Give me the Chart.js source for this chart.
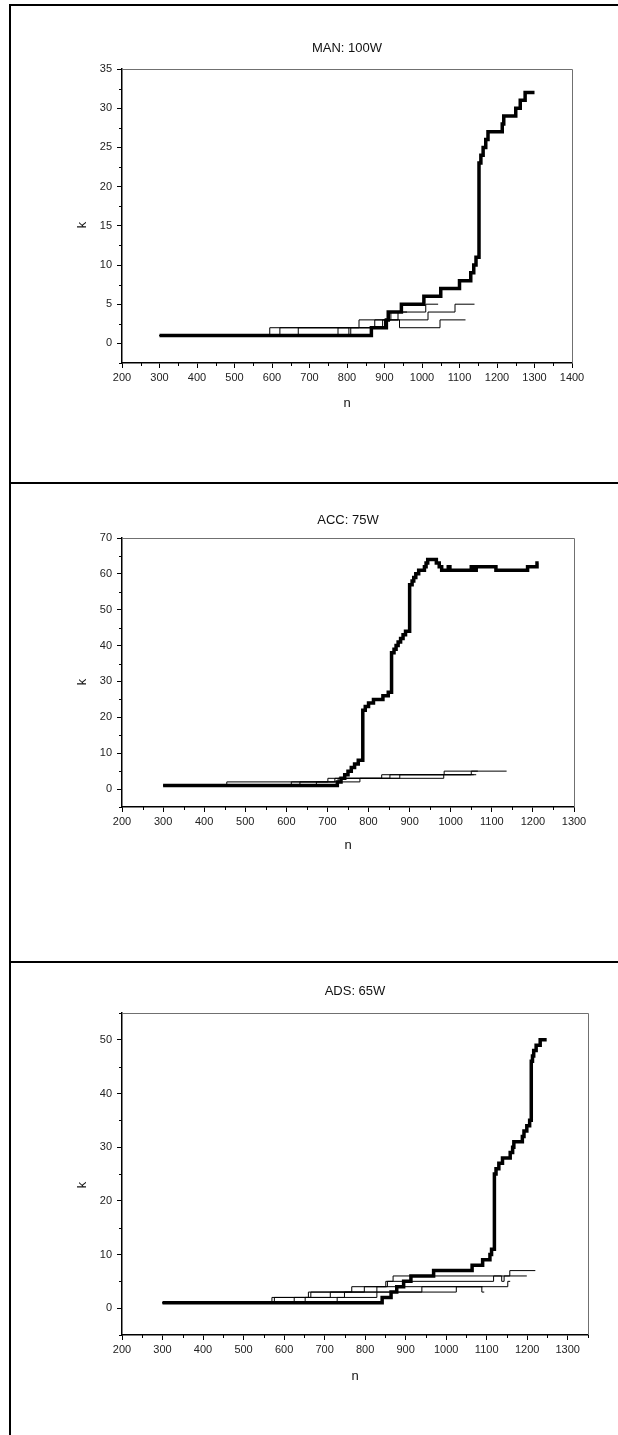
<!DOCTYPE html>
<html>
<head>
<meta charset="utf-8">
<script src="https://cdn.jsdelivr.net/npm/chart.js@4"></script>
<style>
  html, body { margin: 0; padding: 0; background: #fff; }
  #page { position: relative; width: 618px; height: 1435px; overflow: hidden; background: #fff; }
  #page canvas { position: absolute; left: 0; }
  .rule { position: absolute; background: #000; }
</style>
</head>
<body>
<div id="page">
  <canvas id="man" width="618" height="482" style="top:0"></canvas>
  <canvas id="acc" width="618" height="477" style="top:484px"></canvas>
  <canvas id="ads" width="618" height="472" style="top:963px"></canvas>
  <div class="rule" style="left:9px;top:4px;width:2px;height:1431px"></div>
  <div class="rule" style="left:9px;top:4px;width:609px;height:2px"></div>
  <div class="rule" style="left:9px;top:482px;width:609px;height:2px"></div>
  <div class="rule" style="left:9px;top:961px;width:609px;height:2px"></div>
</div>
<script>
const FONT = "'Liberation Sans', Arial, Helvetica, sans-serif";

// ---- MAN: 100W ----  steps are [n, k], k holds until the next n
const manXTicks = [200, 300, 400, 500, 600, 700, 800, 900, 1000, 1100, 1200, 1300, 1400];
const manYTicks = [0, 5, 10, 15, 20, 25, 30, 35];
const manBold = [[300, 1], [865, 2], [905, 3], [910, 4], [945, 5], [1005, 6], [1050, 7], [1100, 8],
  [1130, 9], [1138, 10], [1144, 11], [1152, 23], [1157, 24], [1163, 25], [1170, 26], [1176, 27],
  [1214, 28], [1218, 29], [1250, 30], [1262, 31], [1275, 32], [1300, 32]];
const manThin1 = [[300, 1], [594, 2], [832, 3], [917, 4], [1010, 5], [1043, 5]];
const manThin2 = [[300, 1], [670, 2], [874, 3], [1016, 4], [1088, 5], [1140, 5]];
const manThin3 = [[300, 1], [776, 2], [895, 3], [940, 2], [1048, 3], [1116, 3]];
const manThin4 = [[300, 1], [621, 2], [805, 1], [810, 2], [900, 3], [936, 4], [960, 4]];

// ---- ACC: 75W ----
const accXTicks = [200, 300, 400, 500, 600, 700, 800, 900, 1000, 1100, 1200, 1300];
const accYTicks = [0, 10, 20, 30, 40, 50, 60, 70];
const accBold = [[300, 1], [724, 2], [733, 3], [742, 4], [750, 5], [758, 6], [766, 7], [775, 8],
  [786, 22], [792, 23], [800, 24], [812, 25], [835, 26], [848, 27], [856, 38], [862, 39], [867, 40],
  [872, 41], [878, 42], [884, 43], [890, 44], [900, 57], [906, 58], [910, 59], [915, 60], [922, 61],
  [936, 62], [940, 63], [944, 64], [965, 63], [972, 62], [978, 61], [994, 62], [998, 61], [1050, 62],
  [1055, 61], [1062, 62], [1110, 61], [1187, 62], [1210, 63], [1214, 63]];
const accThin1 = [[300, 1], [455, 2], [701, 3], [832, 4], [984, 5], [1136, 5]];
const accThin2 = [[300, 1], [612, 2], [718, 3], [852, 4], [1050, 5], [1066, 5]];
const accThin3 = [[300, 1], [633, 2], [726, 3], [876, 4], [1056, 4]];
const accThin4 = [[300, 1], [673, 2], [779, 3], [983, 4], [1062, 4]];

// ---- ADS: 65W ----
const adsXTicks = [200, 300, 400, 500, 600, 700, 800, 900, 1000, 1100, 1200, 1300];
const adsYTicks = [0, 10, 20, 30, 40, 50];
const adsBold = [[300, 1], [842, 2], [864, 3], [878, 4], [895, 5], [913, 6], [969, 7], [1064, 8],
  [1090, 9], [1108, 10], [1112, 11], [1119, 25], [1123, 26], [1130, 27], [1139, 28], [1158, 29],
  [1164, 30], [1167, 31], [1188, 32], [1192, 33], [1199, 34], [1206, 35], [1210, 46], [1213, 47],
  [1216, 48], [1222, 49], [1232, 50], [1248, 50]];
const adsThin1 = [[300, 1], [570, 2], [660, 3], [767, 4], [851, 5], [869, 6], [1157, 7], [1220, 7]];
const adsThin2 = [[300, 1], [576, 2], [666, 3], [798, 4], [855, 5], [1117, 6], [1137, 5], [1143, 6], [1199, 6]];
const adsThin3 = [[300, 1], [625, 2], [714, 3], [829, 4], [1152, 5], [1158, 5]];
const adsThin4 = [[300, 1], [652, 2], [749, 3], [940, 4], [1088, 3], [1094, 3]];
const adsThin5 = [[300, 1], [731, 2], [829, 3], [1025, 4], [1090, 4]];

// half-way ticks between the labelled ones
function minorTicks(major, min, max) {
  const step = major[1] - major[0];
  const out = [];
  for (const v of major) {
    if (v - step / 2 >= min && !out.includes(v - step / 2)) out.push(v - step / 2);
    if (v + step / 2 <= max) out.push(v + step / 2);
  }
  return out;
}

// grey box edges, short minor ticks and the text around each plot
const frameAndText = {
  id: 'frameAndText',
  afterDraw(chart, args, o) {
    const { ctx, chartArea: a, scales: { x, y } } = chart;
    ctx.save();
    ctx.strokeStyle = '#707070';
    ctx.lineWidth = 1;
    ctx.beginPath();
    ctx.moveTo(a.left, a.top + 0.5);
    ctx.lineTo(a.right + 0.5, a.top + 0.5);
    ctx.lineTo(a.right + 0.5, a.bottom);
    ctx.stroke();

    ctx.strokeStyle = '#000';
    ctx.beginPath();
    o.xMinor.forEach(v => {
      const px = Math.round(x.getPixelForValue(v)) + 0.5;
      ctx.moveTo(px, a.bottom);
      ctx.lineTo(px, a.bottom + 3);
    });
    o.yMinor.forEach(v => {
      const py = Math.round(y.getPixelForValue(v)) + 0.5;
      ctx.moveTo(a.left, py);
      ctx.lineTo(a.left - 3, py);
    });
    ctx.stroke();

    ctx.fillStyle = '#111';
    ctx.textAlign = 'center';
    ctx.textBaseline = 'middle';
    ctx.font = `13px ${FONT}`;
    const cx = (a.left + a.right) / 2;
    ctx.fillText(o.title, cx, o.titleY);
    ctx.fillText('n', cx, o.nY);
    ctx.translate(o.kX, o.kY);
    ctx.rotate(-Math.PI / 2);
    ctx.fillText('k', 0, 0);
    ctx.restore();
  }
};

function stepLine(steps, width) {
  return {
    data: steps.map(([n, k]) => ({ x: n, y: k })),
    stepped: 'before',
    borderColor: '#000',
    borderWidth: width,
    borderJoinStyle: 'miter',
    pointRadius: 0,
    fill: false
  };
}

function drawPanel(id, p) {
  const canvas = document.getElementById(id);
  const H = canvas.height, W = canvas.width;
  const axisH = 40;
  const tickFont = { family: FONT, size: 11 };
  return new Chart(canvas, {
    type: 'line',
    data: { datasets: [stepLine(p.bold, 3.5)].concat(p.thin.map(s => stepLine(s, 1))) },
    options: {
      responsive: false,
      animation: false,
      events: [],
      layout: { padding: { left: 0, top: p.area.top, right: W - p.area.right, bottom: H - p.area.bottom - axisH } },
      plugins: {
        legend: { display: false },
        tooltip: { enabled: false },
        frameAndText: {
          title: p.title, titleY: p.titleY, nY: p.nY, kX: 82, kY: p.kY,
          xMinor: minorTicks(p.xTicks, p.xMin, p.xMax),
          yMinor: minorTicks(p.yTicks, p.yMin, p.yMax)
        }
      },
      scales: {
        x: {
          type: 'linear', min: p.xMin, max: p.xMax,
          afterBuildTicks: s => { s.ticks = p.xTicks.map(v => ({ value: v })); },
          afterFit: s => { s.height = axisH; },
          ticks: { font: tickFont, color: '#222', padding: 3, maxRotation: 0, autoSkip: false, callback: v => String(v) },
          grid: { drawOnChartArea: false, tickLength: 5, tickColor: '#000', color: '#000' },
          border: { color: '#000', width: 1.5 }
        },
        y: {
          type: 'linear', min: p.yMin, max: p.yMax,
          afterBuildTicks: s => { s.ticks = p.yTicks.map(v => ({ value: v })); },
          afterFit: s => { s.width = p.area.left; },
          ticks: { font: tickFont, color: '#222', padding: 5, autoSkip: false, callback: v => String(v) },
          grid: { drawOnChartArea: false, tickLength: 5, tickColor: '#000', color: '#000' },
          border: { color: '#000', width: 1.5 }
        }
      }
    },
    plugins: [frameAndText]
  });
}

drawPanel('man', {
  title: 'MAN: 100W', titleY: 48, nY: 403, kY: 225,
  area: { left: 122, right: 572, top: 69, bottom: 363 },
  xMin: 200, xMax: 1400, yMin: -2.5, yMax: 35,
  xTicks: manXTicks, yTicks: manYTicks,
  bold: manBold, thin: [manThin1, manThin2, manThin3, manThin4]
});

drawPanel('acc', {
  title: 'ACC: 75W', titleY: 36, nY: 361, kY: 198,
  area: { left: 122, right: 574, top: 54, bottom: 323 },
  xMin: 200, xMax: 1300, yMin: -5, yMax: 70,
  xTicks: accXTicks, yTicks: accYTicks,
  bold: accBold, thin: [accThin1, accThin2, accThin3, accThin4]
});

drawPanel('ads', {
  title: 'ADS: 65W', titleY: 28, nY: 413, kY: 222,
  area: { left: 122, right: 588, top: 50, bottom: 372 },
  xMin: 200, xMax: 1350, yMin: -5, yMax: 55,
  xTicks: adsXTicks, yTicks: adsYTicks,
  bold: adsBold, thin: [adsThin1, adsThin2, adsThin3, adsThin4, adsThin5]
});
</script>
</body>
</html>
